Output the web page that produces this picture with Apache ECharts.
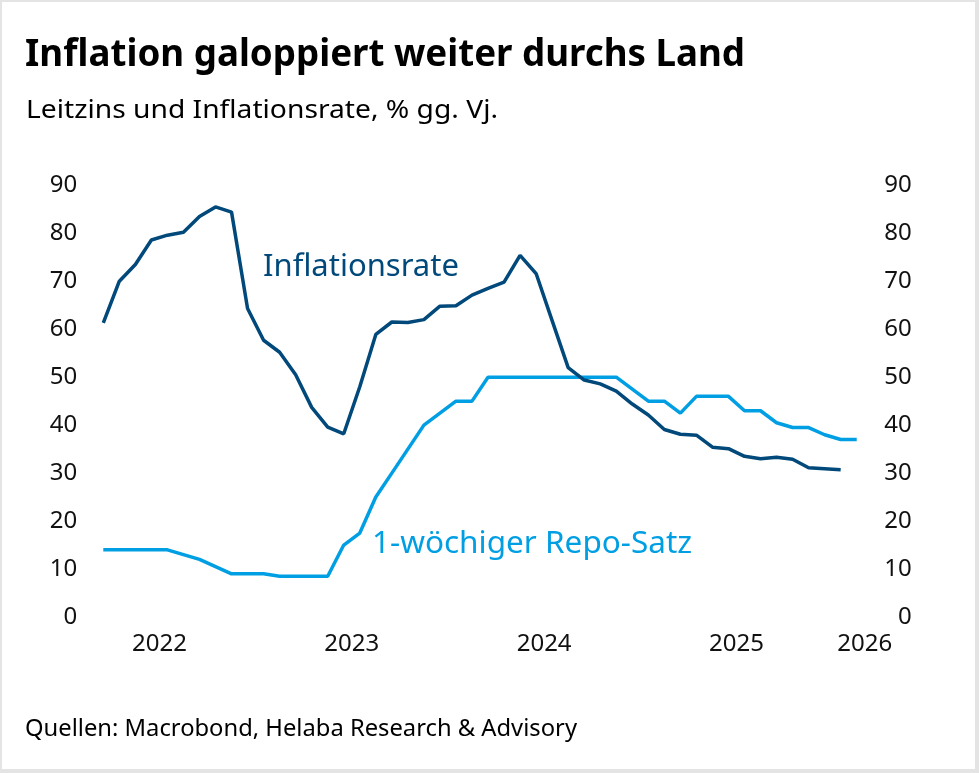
<!DOCTYPE html>
<html>
<head>
<meta charset="utf-8">
<script src="https://cdn.jsdelivr.net/npm/echarts@6/dist/echarts.min.js"></script>
<style>
html,body{margin:0;padding:0;background:#e4e4e4;}
#frame{position:absolute;left:2px;top:2px;width:973px;height:767px;background:#ffffff;}
#c{position:absolute;left:0;top:0;width:979px;height:773px;}
</style>
</head>
<body>
<div id="frame"></div>
<div id="c"></div>
<script>
// ---- data (monthly, % y/y) ----
const months = [
  '2022-03','2022-04','2022-05','2022-06','2022-07','2022-08','2022-09','2022-10','2022-11','2022-12',
  '2023-01','2023-02','2023-03','2023-04','2023-05','2023-06','2023-07','2023-08','2023-09','2023-10','2023-11','2023-12',
  '2024-01','2024-02','2024-03','2024-04','2024-05','2024-06','2024-07','2024-08','2024-09','2024-10','2024-11','2024-12',
  '2025-01','2025-02','2025-03','2025-04','2025-05','2025-06','2025-07','2025-08','2025-09','2025-10','2025-11','2025-12',
  '2026-01','2026-02'
];
const inflation = [
  61.3, 70.0, 73.5, 78.6, 79.6, 80.2, 83.5, 85.5, 84.4, 64.3,
  57.7, 55.2, 50.5, 43.7, 39.6, 38.2, 48.0, 58.9, 61.5, 61.4, 62.0, 64.8,
  64.9, 67.1, 68.5, 69.8, 75.4, 71.6, 61.8, 52.0, 49.4, 48.6, 47.1, 44.4,
  42.1, 39.1, 38.1, 37.9, 35.4, 35.1, 33.5, 33.0, 33.3, 32.9, 31.1, 30.9,
  30.7
];
const repoRate = [
  14, 14, 14, 14, 14, 13, 12, 10.5, 9, 9,
  9, 8.5, 8.5, 8.5, 8.5, 15, 17.5, 25, 30, 35, 40, 42.5,
  45, 45, 50, 50, 50, 50, 50, 50, 50, 50, 50, 47.5,
  45, 45, 42.5, 46, 46, 46, 43, 43, 40.5, 39.5, 39.5, 38,
  37, 37
];
const yearLabels = ['2022', '2023', '2024', '2025', '2026'];
const seriesNames = ['Inflationsrate', '1-wöchiger Repo-Satz'];
const titleText = 'Inflation galoppiert weiter durchs Land';
const subtitleText = 'Leitzins und Inflationsrate, % gg. Vj.';
const sourceText = 'Quellen: Macrobond, Helaba Research & Advisory';

// ---- helpers ----
const baseYear = 2022;
function monthIndex(m) {
  const [y, mo] = m.split('-').map(Number);
  return (y - baseYear) * 12 + (mo - 1);
}
function toPairs(vals) {
  return vals.map((v, i) => [monthIndex(months[i]), v]);
}
const axisMax = monthIndex(months[months.length - 1]) + 1;
const yearPos = yearLabels.map(y => Math.min((Number(y) - baseYear) * 12 + 5.5, axisMax - 0.5));

const FONT = '"Noto Sans", sans-serif';
const measureCtx = document.createElement('canvas').getContext('2d');
function fitScale(text, font, width) {
  measureCtx.font = font;
  return width / measureCtx.measureText(text).width;
}

const DARK = '#00497a';
const LIGHT = '#009fe3';

const titleFont = 'bold 37px ' + FONT;
const subFont = '26px ' + FONT;
const srcFont = '24px ' + FONT;

const chart = echarts.init(document.getElementById('c'), null, { renderer: 'canvas' });

const yAxisCommon = {
  type: 'value',
  min: 0, max: 90, interval: 10,
  axisLine: { show: false },
  axisTick: { show: false },
  splitLine: { show: false },
  axisLabel: { color: '#111', fontFamily: FONT, fontSize: 24 }
};

chart.setOption({
  animation: false,
  textStyle: { fontFamily: FONT },
  grid: { left: 71.24, right: 106.26, top: 185.3, bottom: 156, containLabel: false },
  xAxis: {
    type: 'value',
    min: 0, max: axisMax,
    axisLine: { show: false },
    axisTick: { show: false },
    splitLine: { show: false },
    axisLabel: {
      customValues: yearPos,
      color: '#111', fontFamily: FONT, fontSize: 24,
      margin: 27, verticalAlign: 'middle',
      formatter: v => String(baseYear + Math.floor(v / 12))
    }
  },
  yAxis: [
    Object.assign({}, yAxisCommon, { position: 'left', axisLabel: Object.assign({}, yAxisCommon.axisLabel, { margin: -6, align: 'right' }) }),
    Object.assign({}, yAxisCommon, { position: 'right', axisLabel: Object.assign({}, yAxisCommon.axisLabel, { margin: 39, align: 'right' }) })
  ],
  series: [
    {
      name: seriesNames[0], type: 'line', data: toPairs(inflation),
      showSymbol: false, symbol: 'none', z: 3,
      lineStyle: { color: DARK, width: 3.5 }
    },
    {
      name: seriesNames[1], type: 'line', data: toPairs(repoRate),
      showSymbol: false, symbol: 'none', z: 2,
      lineStyle: { color: LIGHT, width: 3.5 }
    }
  ],
  graphic: [
    { type: 'text', x: 25, y: 55, scaleX: fitScale(titleText, titleFont, 720), z: 100,
      style: { text: titleText, font: titleFont, fill: '#000', verticalAlign: 'middle' } },
    { type: 'text', x: 26, y: 111, scaleX: fitScale(subtitleText, subFont, 472), z: 100,
      style: { text: subtitleText, font: subFont, fill: '#000', verticalAlign: 'middle' } },
    { type: 'text', x: 25, y: 729, scaleX: fitScale(sourceText, srcFont, 552), z: 100,
      style: { text: sourceText, font: srcFont, fill: '#000', verticalAlign: 'middle' } },
    { type: 'text', x: 263, y: 267.5, z: 100,
      style: { text: seriesNames[0], font: '31px ' + FONT, fill: DARK, verticalAlign: 'middle' } },
    { type: 'text', x: 372, y: 544, z: 100,
      style: { text: seriesNames[1], font: '31.5px ' + FONT, fill: LIGHT, verticalAlign: 'middle' } }
  ]
});
</script>
</body>
</html>
